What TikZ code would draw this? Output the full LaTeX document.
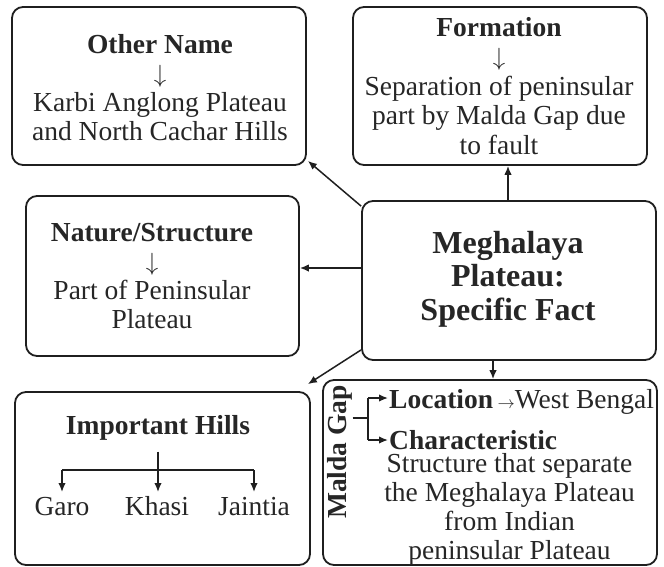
\documentclass[tikz,border=0pt]{standalone}
\usepackage{fontspec}
\setmainfont{Liberation Serif}
\usetikzlibrary{arrows.meta}
\newcommand{\dnarr}{{\fontsize{26}{29}\selectfont$\downarrow$}}
\begin{document}
\begin{tikzpicture}[x=1pt,y=-1pt,
  box/.style={draw=black!88, line width=1.8pt, rounded corners=11pt, inner sep=0pt},
  txt/.style={inner sep=0pt, align=center, text=black!85, font=\fontsize{27.5}{29}\selectfont},
  big/.style={inner sep=0pt, align=center, text=black!85, font=\fontsize{32}{33.5}\selectfont\bfseries},
  arr/.style={draw=black!88, line width=1.5pt, -{Latex[length=9pt,width=7.5pt]}},
  ln/.style={draw=black!88, line width=1.5pt}]
\useasboundingbox (0,0) rectangle (664,566);
% boxes
\node[box, minimum width=294pt, minimum height=158pt] (A) at (159,86) {};
\node[box, minimum width=294pt, minimum height=158pt] (B) at (500,86) {};
\node[box, minimum width=273pt, minimum height=160pt] (C) at (162.5,276) {};
\node[box, minimum width=294pt, minimum height=159pt] (D) at (509,280.5) {};
\node[box, minimum width=295pt, minimum height=173pt] (E) at (162.5,478.5) {};
\node[box, minimum width=334pt, minimum height=185pt] (F) at (490,472.5) {};
% texts
\node[txt] (ta) at (160,88) {\textbf{Other Name}\\\dnarr\\Karbi Anglong Plateau\\and North Cachar Hills};
\node[txt, font=\fontsize{27.5}{29.5}\selectfont] (tb) at (499,86) {\textbf{Formation}\\\dnarr\\Separation of peninsular\\part by Malda Gap due\\to fault};
\node[txt] (tc) at (152,276) {\textbf{Nature/Structure}\\\dnarr\\Part of Peninsular\\Plateau};
\node[big] (td) at (508,279) {Meghalaya\\Plateau:\\Specific Fact};
% important hills
\node[txt, font=\fontsize{27.5}{29}\selectfont\bfseries] (ht) at (158,428) {Important Hills};
\node[txt, anchor=base] (garo) at (62,515) {Garo};
\node[txt, anchor=base] (khasi) at (157,515) {Khasi};
\node[txt, anchor=base] (jaintia) at (254,515) {Jaintia};
\coordinate (hj) at (158,470);
\coordinate (hb) at (0,492);
\draw[ln] ([yshift=-11pt]ht.south) -- (hj);
\draw[ln] (garo.north |- hj) -- (jaintia.north |- hj);
\draw[arr] (hj) -- (hj |- hb);
\draw[arr] (garo.north |- hj) -- (garo.north |- hb);
\draw[arr] (jaintia.north |- hj) -- (jaintia.north |- hb);
% malda gap
\node[txt, rotate=90, font=\fontsize{27.5}{29}\selectfont\bfseries] (mg) at (340,452) {Malda Gap};
\node[txt, anchor=base west] (loc) at (389,408) {\textbf{Location}\,{\fontsize{19}{19}\selectfont$\rightarrow$}West Bengal};
\node[txt, anchor=base west, font=\fontsize{27.5}{29}\selectfont\bfseries] (chr) at (389,449) {Characteristic};
\node[txt] (desc) at (509.5,509) {Structure that separate\\the Meghalaya Plateau\\from Indian\\peninsular Plateau};
\coordinate (bj) at (368,418);
\coordinate (bt) at (368,398);
\coordinate (bb) at (368,440);
\draw[ln] (mg.south |- bj) -- (bj);
\draw[ln] (bt) -- (bb);
\draw[arr] (bt) -- ([xshift=-1pt]bt -| loc.west);
\draw[arr] (bb) -- ([xshift=-1pt]bb -| chr.west);
% connectors from centre
\coordinate (h) at (0,268);
\coordinate (v) at (508,0);
\coordinate (w) at (493,0);
\draw[arr] (D.west |- h) -- (C.east |- h);
\draw[arr] (D.north -| v) -- (B.south -| v);
\draw[arr] (D.south -| w) -- (F.north -| w);
\draw[arr] ([yshift=-6pt]D.north west) -- ([xshift=1pt,yshift=5pt]A.south east);
\draw[arr] ([yshift=11pt]D.south west) -- ([xshift=-3pt,yshift=7pt]E.north east);
\end{tikzpicture}
\end{document}
